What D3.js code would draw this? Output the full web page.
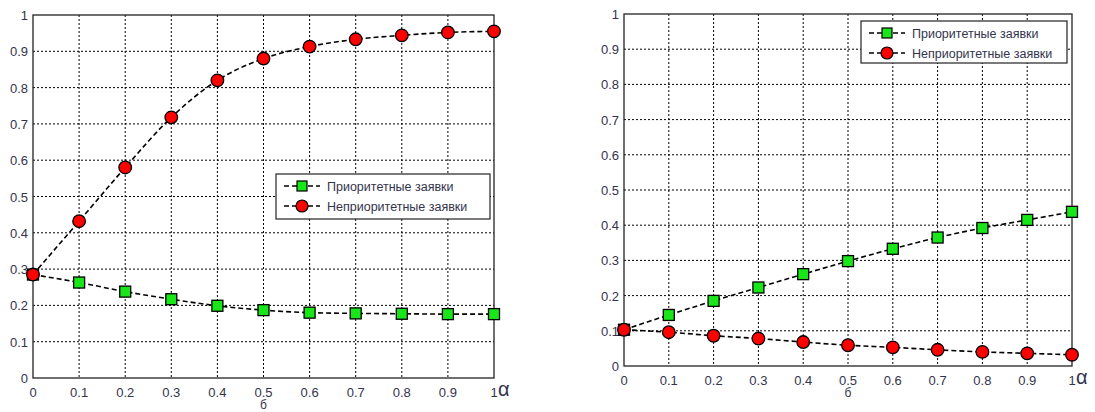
<!DOCTYPE html>
<html lang="ru">
<head>
<meta charset="UTF-8">
<script src="https://d3js.org/d3.v7.min.js"></script>
<style>
  body { margin: 0; background: #fff; }
  svg text { font-family: "Liberation Sans", Arial, sans-serif; }
</style>
</head>
<body>
<svg id="chart" width="1095" height="412"></svg>
<script>
// alpha values on x axis
const alphas = [0, 0.1, 0.2, 0.3, 0.4, 0.5, 0.6, 0.7, 0.8, 0.9, 1];
const xTickLabels = ['0', '0.1', '0.2', '0.3', '0.4', '0.5', '0.6', '0.7', '0.8', '0.9', '1'];
const yTicks = [0, 0.1, 0.2, 0.3, 0.4, 0.5, 0.6, 0.7, 0.8, 0.9, 1];
const seriesNames = ['Приоритетные заявки', 'Неприоритетные заявки'];

// left panel
const leftPriority = [0.285, 0.263, 0.238, 0.217, 0.199, 0.187, 0.180, 0.178, 0.177, 0.176, 0.176];
const leftNonPriority = [0.285, 0.432, 0.58, 0.718, 0.82, 0.88, 0.913, 0.933, 0.944, 0.952, 0.955];

// right panel
const rightPriority = [0.103, 0.145, 0.185, 0.223, 0.261, 0.298, 0.333, 0.365, 0.392, 0.415, 0.438];
const rightNonPriority = [0.103, 0.096, 0.086, 0.078, 0.068, 0.059, 0.053, 0.046, 0.04, 0.036, 0.032];

const svg = d3.select('#chart');

let drawPanel = function(box, priority, nonPriority, legendBox) {
  const x = d3.scaleLinear().domain([0, 1]).range([box.left, box.right]);
  const y = d3.scaleLinear().domain([0, 1]).range([box.bottom, box.top]);
  const g = svg.append('g');

  // grid
  g.selectAll('.vgrid').data(alphas.slice(1, -1)).enter().append('line')
    .attr('x1', d => x(d)).attr('x2', d => x(d))
    .attr('y1', box.top).attr('y2', box.bottom)
    .style('stroke', '#000').style('stroke-width', 1).style('stroke-dasharray', '2,2');
  g.selectAll('.hgrid').data(yTicks.slice(1, -1)).enter().append('line')
    .attr('x1', box.left).attr('x2', box.right)
    .attr('y1', d => y(d)).attr('y2', d => y(d))
    .style('stroke', '#000').style('stroke-width', 1).style('stroke-dasharray', '2,2');

  // frame
  g.append('rect')
    .attr('x', box.left).attr('y', box.top)
    .attr('width', box.right - box.left).attr('height', box.bottom - box.top)
    .style('fill', 'none').style('stroke', '#222').style('stroke-width', 1.3);

  // ticks labels
  g.selectAll('.xlab').data(alphas).enter().append('text')
    .attr('x', d => x(d)).attr('y', box.bottom + 19)
    .attr('text-anchor', 'middle')
    .style('font-size', '13px').style('fill', '#33334d')
    .text((d, i) => xTickLabels[i]);
  g.selectAll('.ylab').data(yTicks).enter().append('text')
    .attr('x', box.left - 5).attr('y', d => y(d) + 5)
    .attr('text-anchor', 'end')
    .style('font-size', '13px').style('fill', '#33334d')
    .text(d => d === 0 || d === 1 ? String(d) : d.toFixed(1));

  g.append('text')
    .attr('x', box.right + 4).attr('y', box.bottom + 18)
    .style('font-size', '20px').style('fill', '#33334d')
    .text('α');
  g.append('text')
    .attr('x', (box.left + box.right) / 2).attr('y', box.bottom + 31)
    .attr('text-anchor', 'middle')
    .style('font-size', '12px').style('fill', '#33334d')
    .text('б');

  const line = d3.line().x((d, i) => x(alphas[i])).y(d => y(d)).curve(d3.curveMonotoneX);

  [priority, nonPriority].forEach(function(vals) {
    g.append('path').attr('d', line(vals))
      .style('fill', 'none').style('stroke', '#000')
      .style('stroke-width', 1.6).style('stroke-dasharray', '5,3');
  });

  g.selectAll('.sq').data(priority).enter().append('rect')
    .attr('x', (d, i) => x(alphas[i]) - 5.5).attr('y', d => y(d) - 5.5)
    .attr('width', 11).attr('height', 11)
    .style('fill', '#19e619').style('stroke', '#000').style('stroke-width', 1.3);
  g.selectAll('.ci').data(nonPriority).enter().append('circle')
    .attr('cx', (d, i) => x(alphas[i])).attr('cy', d => y(d)).attr('r', 6.3)
    .style('fill', '#f00').style('stroke', '#000').style('stroke-width', 1.3);

  // legend
  const lg = g.append('g');
  lg.append('rect')
    .attr('x', legendBox.x).attr('y', legendBox.y)
    .attr('width', legendBox.w).attr('height', legendBox.h)
    .style('fill', '#fff').style('stroke', '#222').style('stroke-width', 1.2);
  seriesNames.forEach(function(name, i) {
    const cy = legendBox.y + 12 + i * 20;
    const lx = legendBox.x + 8;
    lg.append('line')
      .attr('x1', lx).attr('x2', lx + 36).attr('y1', cy).attr('y2', cy)
      .style('stroke', '#000').style('stroke-width', 1.6).style('stroke-dasharray', '5,3');
    if (i === 0) {
      lg.append('rect').attr('x', lx + 13).attr('y', cy - 5).attr('width', 10).attr('height', 10)
        .style('fill', '#19e619').style('stroke', '#000').style('stroke-width', 1.2);
    } else {
      lg.append('circle').attr('cx', lx + 18).attr('cy', cy).attr('r', 6)
        .style('fill', '#f00').style('stroke', '#000').style('stroke-width', 1.2);
    }
    lg.append('text')
      .attr('x', lx + 43).attr('y', cy + 4.5)
      .style('font-size', '12.5px').style('fill', '#33334d')
      .text(name);
  });
};

drawPanel({left: 33, right: 494, top: 15, bottom: 378}, leftPriority, leftNonPriority,
  {x: 276, y: 174, w: 214, h: 45});
drawPanel({left: 624, right: 1072, top: 14, bottom: 366}, rightPriority, rightNonPriority,
  {x: 861, y: 21, w: 206, h: 42});
</script>
</body>
</html>
